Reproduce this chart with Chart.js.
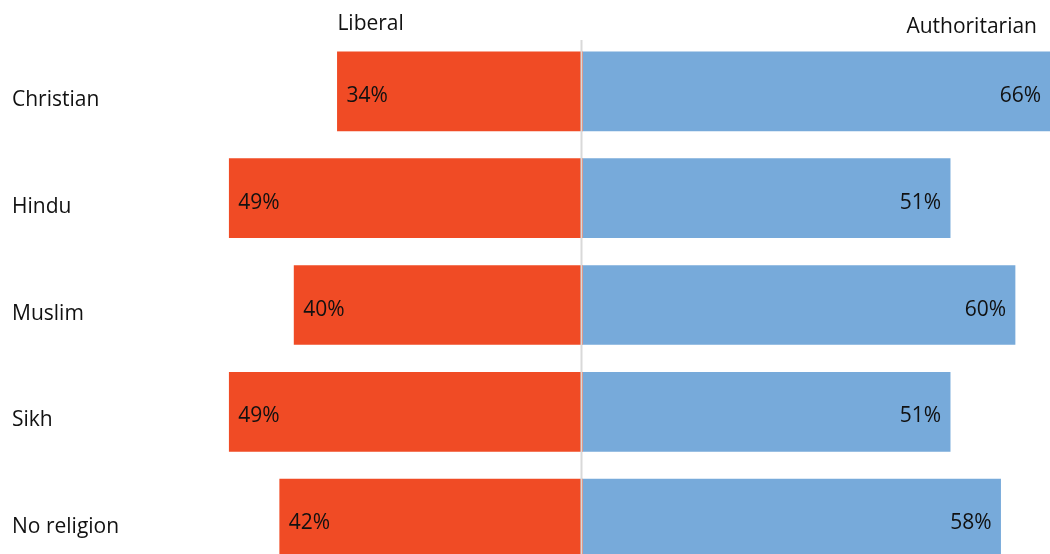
<!DOCTYPE html>
<html>
<head>
<meta charset="utf-8">
<script src="https://cdn.jsdelivr.net/npm/chart.js@4/dist/chart.umd.min.js"></script>
<style>
  html, body { margin: 0; padding: 0; background: #ffffff; }
  #wrap { width: 1050px; height: 554px; overflow: hidden; position: relative; }
  canvas { display: block; }
</style>
</head>
<body>
<div id="wrap"><canvas id="c" width="1050" height="572"></canvas></div>
<script>
// Survey groups and the share of each leaning (percent)
const groups = ["Christian", "Hindu", "Muslim", "Sikh", "No religion"];
const liberal = [34, 49, 40, 49, 42];
const authoritarian = [66, 51, 60, 51, 58];
const sideTitles = ["Liberal", "Authoritarian"];

const FONT = "'Open Sans', 'Noto Sans', sans-serif";
const RED = "#f04b25";
const BLUE = "#77aada";

// Category names, side headings, percentage labels and the zero divider
const annotate = {
  id: "annotate",
  afterDatasetsDraw(chart) {
    const { ctx, scales: { x, y } } = chart;
    const zero = x.getPixelForValue(0);
    ctx.save();

    // zero divider
    ctx.strokeStyle = "#d9d9d9";
    ctx.lineWidth = 2;
    ctx.beginPath();
    ctx.moveTo(zero - 1, 40);
    ctx.lineTo(zero - 1, chart.height);
    ctx.stroke();

    ctx.fillStyle = "#111111";
    ctx.font = "21px " + FONT;
    ctx.textBaseline = "alphabetic";

    // side headings
    ctx.textAlign = "left";
    ctx.fillText(sideTitles[0], x.getPixelForValue(-liberal[0]), 30);
    ctx.textAlign = "right";
    ctx.fillText(sideTitles[1], 1037, 33);

    groups.forEach((g, i) => {
      const cy = y.getPixelForValue(i);
      // category name
      ctx.textAlign = "left";
      ctx.fillText(g, 12, cy + 14.5);

      // liberal value, inside the bar near its outer end
      const lx = x.getPixelForValue(-liberal[i]);
      ctx.fillText(liberal[i] + "%", lx + 9, cy + 10.5);

      // authoritarian value, inside the bar near its outer end
      const rx = Math.min(x.getPixelForValue(authoritarian[i]), chart.chartArea.right);
      ctx.textAlign = "right";
      ctx.fillText(authoritarian[i] + "%", rx - 9, cy + 10.5);
    });
    ctx.restore();
  }
};

new Chart(document.getElementById("c"), {
  type: "bar",
  data: {
    labels: groups,
    datasets: [
      { label: sideTitles[0], data: liberal.map(v => -v), backgroundColor: RED },
      { label: sideTitles[1], data: authoritarian, backgroundColor: BLUE }
    ]
  },
  options: {
    indexAxis: "y",
    responsive: false,
    animation: false,
    layout: { padding: { top: 38, left: 0, right: 0, bottom: 0 } },
    datasets: { bar: { barThickness: 79, borderWidth: 0 } },
    scales: {
      x: { stacked: true, min: -80.8, max: 64.85, display: false },
      y: { stacked: true, display: false }
    },
    plugins: { legend: { display: false }, tooltip: { enabled: false } }
  },
  plugins: [annotate]
});
</script>
</body>
</html>
